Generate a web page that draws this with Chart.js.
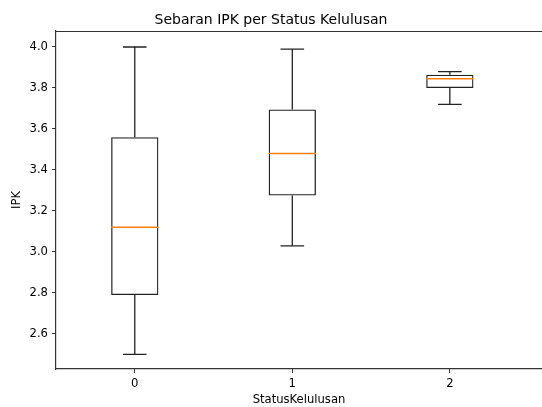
<!DOCTYPE html>
<html>
<head>
<meta charset="utf-8">
<script src="https://cdn.jsdelivr.net/npm/chart.js@4/dist/chart.umd.min.js"></script>
<style>
  html, body { margin: 0; padding: 0; background: #fff; overflow: hidden; }
  #wrap { width: 542px; height: 407px; }
</style>
</head>
<body>
<div id="wrap"><canvas id="boxChart"></canvas></div>
<script>
const categories = ['0', '1', '2'];
const whiskerLow = [2.50, 3.03, 3.72];
const q1 = [2.79, 3.275, 3.80];
const median = [3.12, 3.48, 3.845];
const q3 = [3.56, 3.695, 3.865];
const whiskerHigh = [4.00, 3.99, 3.88];
const yTicks = [2.6, 2.8, 3.0, 3.2, 3.4, 3.6, 3.8, 4.0];

const FONT = 'DejaVu Sans';

// whiskers, caps, medians and top spine
const boxExtras = {
  id: 'boxExtras',
  afterDatasetsDraw(chart) {
    const { ctx, chartArea, scales: { x, y } } = chart;
    ctx.save();
    ctx.lineWidth = 1.3;
    ctx.strokeStyle = '#222';
    categories.forEach((c, i) => {
      const cx = x.getPixelForValue(i);
      const capL = x.getPixelForValue(i - 0.075);
      const capR = x.getPixelForValue(i + 0.075);
      ctx.beginPath();
      ctx.moveTo(cx, y.getPixelForValue(q3[i]));
      ctx.lineTo(cx, y.getPixelForValue(whiskerHigh[i]));
      ctx.moveTo(cx, y.getPixelForValue(q1[i]));
      ctx.lineTo(cx, y.getPixelForValue(whiskerLow[i]));
      ctx.moveTo(capL, y.getPixelForValue(whiskerHigh[i]));
      ctx.lineTo(capR, y.getPixelForValue(whiskerHigh[i]));
      ctx.moveTo(capL, y.getPixelForValue(whiskerLow[i]));
      ctx.lineTo(capR, y.getPixelForValue(whiskerLow[i]));
      ctx.stroke();
    });
    ctx.strokeStyle = '#ff7f0e';
    ctx.lineWidth = 1.5;
    categories.forEach((c, i) => {
      const my = y.getPixelForValue(median[i]);
      ctx.beginPath();
      ctx.moveTo(x.getPixelForValue(i - 0.15), my);
      ctx.lineTo(x.getPixelForValue(i + 0.15), my);
      ctx.stroke();
    });
    ctx.strokeStyle = '#333';
    ctx.lineWidth = 1.2;
    ctx.beginPath();
    ctx.moveTo(chartArea.left, chartArea.top + 0.5);
    ctx.lineTo(chartArea.right, chartArea.top + 0.5);
    ctx.stroke();
    ctx.restore();
  }
};

new Chart(document.getElementById('boxChart'), {
  type: 'bar',
  data: {
    datasets: [{
      label: 'IPK',
      data: categories.map((c, i) => ({ x: i, y: [q1[i], q3[i]] })),
      backgroundColor: 'rgba(0,0,0,0)',
      borderColor: '#222',
      borderWidth: 1.3,
      borderSkipped: false,
      barPercentage: 0.3,
      categoryPercentage: 1
    }]
  },
  options: {
    responsive: true,
    maintainAspectRatio: false,
    animation: false,
    layout: { padding: { left: 0, right: 0, top: 0, bottom: 0 } },
    plugins: {
      legend: { display: false },
      tooltip: { enabled: false },
      title: {
        display: true,
        text: 'Sebaran IPK per Status Kelulusan',
        color: '#000',
        font: { family: FONT, size: 14, weight: 'normal' },
        padding: { top: 12, bottom: 2.2 }
      }
    },
    scales: {
      x: {
        type: 'linear',
        offset: false,
        min: -0.5,
        max: 2.585,
        afterBuildTicks: s => { s.ticks = categories.map((c, i) => ({ value: i })); },
        afterFit: s => { s.height = 38; },
        grid: { offset: false, drawOnChartArea: false, drawTicks: true, tickLength: 4, color: '#333' },
        border: { color: '#333', width: 1.2 },
        ticks: {
          color: '#000',
          padding: 4,
          font: { family: FONT, size: 11.6 },
          callback: v => categories[v]
        },
        title: {
          display: true,
          text: 'StatusKelulusan',
          color: '#000',
          font: { family: FONT, size: 11.6 },
          padding: { top: 0, bottom: 0 }
        }
      },
      y: {
        min: 2.429,
        max: 4.078,
        afterBuildTicks: s => { s.ticks = yTicks.map(v => ({ value: v })); },
        afterFit: s => { s.width = 56; },
        grid: { drawOnChartArea: false, drawTicks: true, tickLength: 4, color: '#333' },
        border: { color: '#333', width: 1.2 },
        ticks: {
          color: '#000',
          padding: 4,
          font: { family: FONT, size: 11.6 },
          callback: v => v.toFixed(1)
        },
        title: {
          display: true,
          text: 'IPK',
          color: '#000',
          font: { family: FONT, size: 11.6 },
          padding: { top: 10, bottom: 0 }
        }
      }
    }
  },
  plugins: [boxExtras]
});
</script>
</body>
</html>
